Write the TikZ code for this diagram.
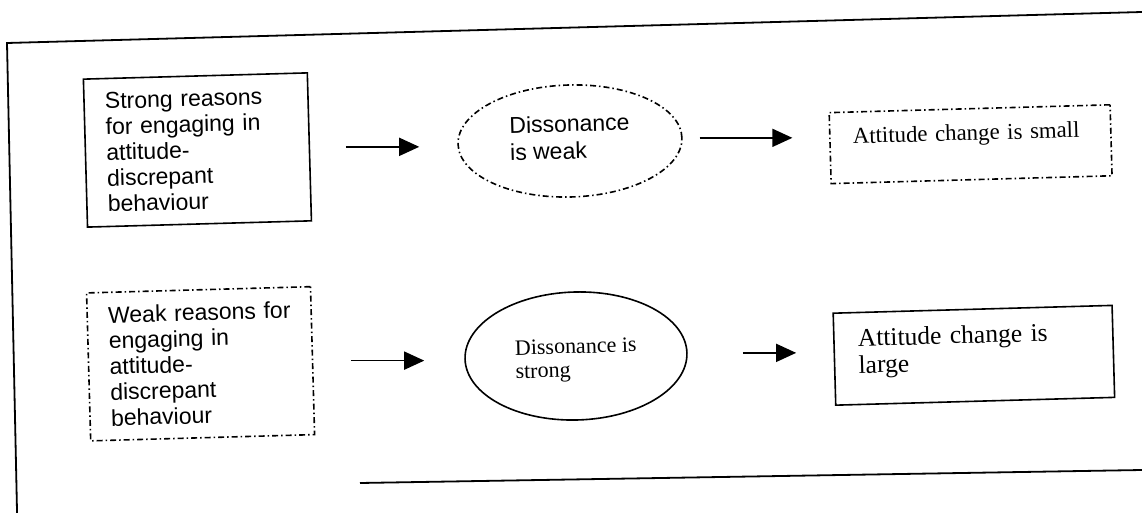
\documentclass[tikz,border=0pt]{standalone}
\usepackage{fontspec}
\setmainfont{Liberation Serif}
\newfontfamily\arialf{Liberation Sans}
\usetikzlibrary{arrows.meta,shapes.geometric,calc}
\begin{document}
\begin{tikzpicture}[x=1bp,y=-1bp,
  solidline/.style={draw, line width=1.6bp},
  dashdot/.style={draw, line width=1.6bp, dash pattern=on 6bp off 3bp on 1.5bp off 3bp},
  rbox/.style={rectangle, inner ysep=0pt, align=left},
  ell/.style={ellipse, inner sep=0pt, align=left},
  arr/.style={line width=1.6bp, -{Triangle[length=20bp,width=18bp]}},
  frameline/.style={line width=1.8bp},
  sansA/.style={font=\arialf\fontsize{23bp}{25.75bp}\selectfont},
]
\useasboundingbox (0,0) rectangle (1142,513);
\clip (0,0) rectangle (1142,513);
% outer frame (scanned, slightly skewed)
\draw[frameline] (1142,12) -- (7,43) -- (17.2,520);
\draw[frameline] (360,483) -- (1142,470);
\begin{scope}[rotate around={1.6:(571,256)}, transform shape]
\node[solidline, rbox, sansA, text width=182bp, inner xsep=21bp, minimum height=148bp] (b1) at (200.5,139.6)
  {Strong reasons\\for engaging in\\attitude-\\discrepant\\behaviour};
\node[dashdot, rbox, sansA, text width=182bp, inner xsep=21bp, minimum height=148bp] (b4) at (197.7,353.4)
  {\mbox{Weak reasons for}\\engaging in\\attitude-\\discrepant\\behaviour};
\node[dashdot, ell, font=\arialf\fontsize{23bp}{27bp}\selectfont, minimum width=224bp, minimum height=112bp] (e1) at (573.2,141)
  {Dissonance\\is weak\rule[-8bp]{0pt}{8bp}};
\node[solidline, ell, font=\fontsize{22bp}{23.5bp}\selectfont, minimum width=222bp, minimum height=128bp] (e2) at (573.2,356.1)
  {\rule{0pt}{23bp}Dissonance is\\strong};
\node[dashdot, rbox, font=\fontsize{22.8bp}{27bp}\selectfont, text width=235bp, inner xsep=23bp, minimum height=71bp] (b3) at (973.6,155.4)
  {Attitude change is small\rule[-23.7bp]{0pt}{23.7bp}};
\node[solidline, rbox, font=\fontsize{25.5bp}{27bp}\selectfont, text width=231bp, inner xsep=24bp, minimum height=92bp] (b6) at (971,366.5)
  {Attitude change is\\large\rule[-15bp]{0pt}{15bp}};
\end{scope}
\draw[arr, shorten <=35.7bp, shorten >=38bp] (b1.east) -- (b1.east -| e1.west);
\draw[arr, shorten <=17bp, shorten >=37bp] (e1.east) -- (e1.east -| b3.west);
\draw[arr, shorten <=37.5bp, shorten >=40bp] (b4.east) -- (b4.east -| e2.west);
\draw[arr, shorten <=55bp, shorten >=37.5bp] (e2.east) -- (e2.east -| b6.west);
\end{tikzpicture}
\end{document}
